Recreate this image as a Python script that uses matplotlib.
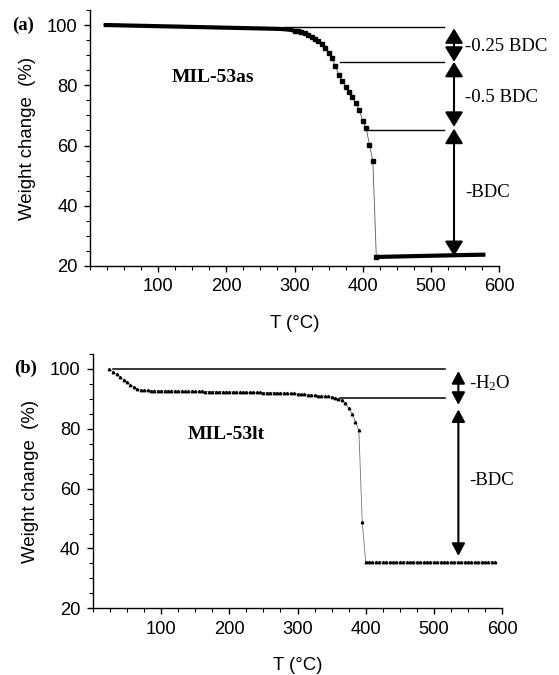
import matplotlib
matplotlib.use("Agg")
import matplotlib.pyplot as plt
from matplotlib.ticker import MultipleLocator

plt.rcParams["mathtext.fontset"] = "custom"
plt.rcParams["mathtext.rm"] = "Liberation Serif"
plt.rcParams["mathtext.it"] = "Liberation Serif:italic"
plt.rcParams["mathtext.bf"] = "Liberation Serif:bold"

# ---------------- data (a) MIL-53as ----------------
a_T = [20, 25, 30, 35, 40, 45, 50, 55, 60, 65, 70, 75, 80, 85, 90, 95, 100, 105, 110, 115,
       120, 125, 130, 135, 140, 145, 150, 155, 160, 165, 170, 175, 180, 185, 190, 195, 200,
       205, 210, 215, 220, 225, 230, 235, 240, 245, 250, 255, 260, 265, 270, 275, 280,
       285, 290, 295, 300, 305, 310, 315, 320, 325, 330, 335, 340, 345, 350, 355, 360,
       365, 370, 375, 380, 385, 390, 395, 400, 405, 410, 415, 420,
       425, 430, 435, 440, 445, 450, 455, 460, 465, 470, 475, 480, 485, 490, 495, 500,
       505, 510, 515, 520, 525, 530, 535, 540, 545, 550, 555, 560, 565, 570, 575, 580]
a_W = [100.0, 100.0, 99.98, 99.95, 99.93, 99.9, 99.88, 99.85, 99.83, 99.8, 99.78, 99.75, 99.73,
       99.7, 99.68, 99.65, 99.63, 99.6, 99.58, 99.55, 99.53, 99.5, 99.48, 99.45, 99.43, 99.4,
       99.38, 99.35, 99.33, 99.3, 99.28, 99.25, 99.22, 99.2, 99.17, 99.15, 99.12, 99.1, 99.07,
       99.05, 99.02, 99.0, 98.97, 98.95, 98.92, 98.9, 98.87, 98.85, 98.82, 98.8, 98.77, 98.74,
       98.7,
       98.6, 98.5, 98.35, 98.15, 97.9, 97.6, 97.2, 96.7, 96.2, 95.5, 94.6, 93.6, 92.3, 90.7,
       88.9, 86.3, 83.5, 81.4, 79.5, 77.9, 76.0, 74.0, 71.7, 68.3, 65.8, 60.3, 54.7, 23.0,
       23.03, 23.05, 23.08, 23.1, 23.13, 23.15, 23.18, 23.2, 23.23, 23.25, 23.28, 23.3, 23.33,
       23.35, 23.38, 23.4, 23.42, 23.45, 23.47, 23.5, 23.52, 23.55, 23.57, 23.6, 23.62, 23.64,
       23.66, 23.68, 23.7, 23.72, 23.74, 23.76]
a_steep_start = 300   # temperature where the dense plateau ends
a_steep_end = 420     # temperature where the residue plateau begins

# reference lines / arrows for (a)
a_levels = [99.2, 87.8, 65.2]
a_level_start = [285, 367, 407]
a_line_end = 519
a_arrow_T = 534
a_arrows = [(98.9, 87.8), (87.8, 66.2), (65.6, 23.3)]
a_labels = ["-0.25 BDC", "-0.5 BDC", "-BDC"]
a_label_W = [92.8, 76.0, 44.3]

# ---------------- data (b) MIL-53lt ----------------
b_T = [24, 30, 35, 40, 45, 50, 55, 60, 65, 70, 75, 80, 85, 90, 95, 100, 105, 110, 115, 120,
       125, 130, 135, 140, 145, 150, 155, 160, 165, 170, 175, 180, 185, 190, 195, 200, 205,
       210, 215, 220, 225, 230, 235, 240, 245, 250, 255, 260, 265, 270, 275, 280, 285, 290,
       295, 300, 305, 310, 315, 320, 325, 330, 335, 340, 345, 350, 355, 360, 365, 370, 375,
       380, 385, 390, 395, 400,
       405, 410, 415, 420, 425, 430, 435, 440, 445, 450, 455, 460, 465, 470, 475, 480, 485,
       490, 495, 500, 505, 510, 515, 520, 525, 530, 535, 540, 545, 550, 555, 560, 565, 570,
       575, 580, 585, 590]
b_W = [100.0, 99.0, 98.2, 97.3, 96.4, 95.6, 94.8, 94.0, 93.3, 92.95, 92.85, 92.8, 92.78,
       92.76, 92.74, 92.72, 92.7, 92.68, 92.66, 92.64, 92.62, 92.6, 92.58, 92.56, 92.54,
       92.52, 92.5, 92.48, 92.46, 92.44, 92.42, 92.4, 92.38, 92.36, 92.34, 92.32, 92.3,
       92.28, 92.26, 92.24, 92.22, 92.2, 92.18, 92.16, 92.14, 92.12, 92.1, 92.08, 92.05,
       92.02, 92.0, 91.95, 91.9, 91.85, 91.8, 91.7, 91.6, 91.5, 91.4, 91.3, 91.2, 91.1,
       91.0, 90.9, 90.85, 90.7, 90.4, 90.1, 89.5, 88.6, 86.9, 85.1, 82.3, 79.5, 48.8, 35.6,
       35.5, 35.45, 35.45, 35.45, 35.45, 35.45, 35.45, 35.45, 35.45, 35.45, 35.45, 35.45,
       35.45, 35.45, 35.45, 35.45, 35.45, 35.45, 35.45, 35.45, 35.45, 35.45, 35.45, 35.45,
       35.45, 35.45, 35.45, 35.45, 35.45, 35.45, 35.45, 35.45, 35.45, 35.45, 35.45, 35.45,
       35.45, 35.45]

b_levels = [100.0, 90.4]
b_level_start = [29, 363]
b_line_end = 516
b_arrow_T = 536
b_arrows = [(99.3, 88.0), (86.5, 37.5)]
b_labels = [r"-H$\mathrm{_2}$O", "-BDC"]
b_label_W = [95.3, 62.6]

x_ticks = [100, 200, 300, 400, 500, 600]
y_ticks = [20, 40, 60, 80, 100]

serif = "Liberation Serif"
sans = "Liberation Sans"

fig = plt.figure(figsize=(5.59, 6.75), dpi=100)

axA = fig.add_axes([90 / 559, 1 - 266 / 675, 409 / 559, 256 / 675])
axB = fig.add_axes([93 / 559, 1 - 608.3 / 675, 409 / 559, 254.3 / 675])


def style(ax):
    ax.set_xlim(0, 600)
    ax.set_ylim(20, 105)
    for s in ("top", "right"):
        ax.spines[s].set_visible(False)
    for s in ("left", "bottom"):
        ax.spines[s].set_linewidth(1.0)
    ax.set_xticks(x_ticks)
    ax.set_yticks(y_ticks)
    ax.xaxis.set_minor_locator(MultipleLocator(25))
    ax.yaxis.set_minor_locator(MultipleLocator(5))
    ax.tick_params(which="major", length=4, width=1.0, direction="out", labelsize=13.2, pad=5)
    ax.tick_params(which="minor", length=3, width=0.8, direction="out")
    for lab in ax.get_xticklabels() + ax.get_yticklabels():
        lab.set_fontfamily(sans)
    ax.set_xlabel("T (°C)", fontsize=13.4, fontfamily=sans, labelpad=14)
    ax.set_ylabel("Weight change  (%)", fontsize=13.4, fontfamily=sans, labelpad=8)


style(axA)
style(axB)

# ---- panel (a)
i0 = a_T.index(a_steep_start)
i1 = a_T.index(a_steep_end)
axA.plot(a_T, a_W, color="0.35", lw=0.6, zorder=2)
axA.plot(a_T[:i0 + 1], a_W[:i0 + 1], color="black", lw=3.0, solid_capstyle="butt", zorder=3)
axA.plot(a_T[i1:], a_W[i1:], color="black", lw=3.0, solid_capstyle="butt", zorder=3)
axA.plot(a_T[i0:i1 + 1], a_W[i0:i1 + 1], ls="none", marker="s", ms=2.4,
         mfc="black", mec="black", zorder=4)
for lvl, st in zip(a_levels, a_level_start):
    axA.plot([st, a_line_end], [lvl, lvl], color="black", lw=1.0)
for (y0, y1) in a_arrows:
    axA.annotate("", xy=(a_arrow_T, y1), xytext=(a_arrow_T, y0),
                 arrowprops=dict(arrowstyle="<|-|>,head_length=0.9,head_width=0.55",
                                 mutation_scale=10, lw=1.5, color="black",
                                 shrinkA=0, shrinkB=0))
for lab, w in zip(a_labels, a_label_W):
    axA.text(550, w, lab, fontsize=13.5, fontfamily=serif, va="center", ha="left")
axA.text(181, 82.7, "MIL-53as", fontsize=14, fontweight="bold", fontfamily=serif,
         ha="center", va="center")
fig.text(12 / 559, 1 - 25 / 675, "(a)", fontsize=13.4, fontweight="bold", fontfamily=serif,
         ha="left", va="center")

# ---- panel (b)
axB.plot(b_T, b_W, color="0.45", lw=0.6, marker="^", ms=1.8, mfc="black", mec="black", zorder=3)
for lvl, st in zip(b_levels, b_level_start):
    axB.plot([st, b_line_end], [lvl, lvl], color="black", lw=1.1)
for (y0, y1) in b_arrows:
    axB.annotate("", xy=(b_arrow_T, y1), xytext=(b_arrow_T, y0),
                 arrowprops=dict(arrowstyle="<|-|>,head_length=0.75,head_width=0.4",
                                 mutation_scale=10, lw=1.5, color="black",
                                 shrinkA=0, shrinkB=0))
for lab, w in zip(b_labels, b_label_W):
    axB.text(552, w, lab, fontsize=13.5, fontfamily=serif, va="center", ha="left")
axB.text(196, 78, "MIL-53lt", fontsize=14, fontweight="bold", fontfamily=serif,
         ha="center", va="center")
fig.text(14 / 559, 1 - 368 / 675, "(b)", fontsize=13.4, fontweight="bold", fontfamily=serif,
         ha="left", va="center")

fig.savefig("out.png", dpi=100)
